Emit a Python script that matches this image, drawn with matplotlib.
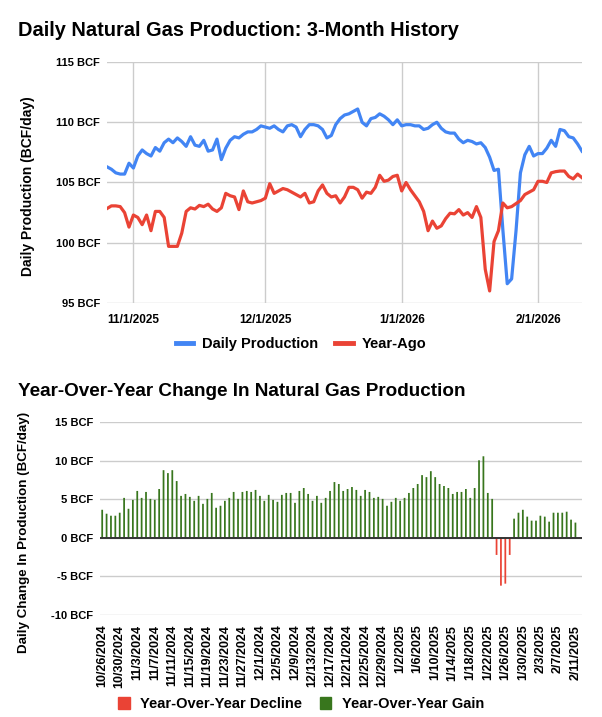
import numpy as np
import pandas as pd
import matplotlib
matplotlib.use("Agg")
import matplotlib.pyplot as plt
from matplotlib.lines import Line2D
from matplotlib.patches import Patch

plt.rcParams['font.family'] = ['Liberation Sans', 'DejaVu Sans']
plt.rcParams['font.weight'] = 'bold'

# top chart: daily production vs same day one year earlier (BCF/day), 10/26/2025 onward
production = [106.3, 106.1, 105.8, 105.7, 105.7, 106.6, 106.2, 107.2, 107.7, 107.4,
              107.2, 107.9, 107.6, 108.3, 108.6, 108.3, 108.7, 108.4, 108.0, 108.8,
              108.1, 108.0, 108.5, 107.6, 107.7, 108.6, 106.9, 107.85, 108.5, 108.8,
              108.7, 109.0, 109.2, 109.2, 109.4, 109.7, 109.6, 109.5, 109.7, 109.4,
              109.2, 109.7, 109.8, 109.6, 108.8, 109.4, 109.8, 109.8, 109.7, 109.4,
              108.7, 108.9, 109.8, 110.3, 110.6, 110.7, 110.9, 111.1, 110.0, 109.7,
              110.3, 110.4, 110.7, 110.5, 110.2, 109.8, 110.2, 109.7, 109.8, 109.8,
              109.7, 109.7, 109.4, 109.5, 109.8, 110.0, 109.5, 109.2, 109.1, 109.1,
              108.6, 108.3, 108.5, 108.4, 108.2, 108.3, 107.9, 107.1, 106.0, 106.1,
              101.1, 96.6, 97.0, 101.0, 105.8, 107.3, 108.0, 107.2, 107.4, 107.4,
              107.85, 108.5, 108.0, 109.4, 109.3, 108.8, 108.7, 108.2, 107.6]

year_ago = [102.84, 103.06, 103.06, 103.0, 102.5, 101.3, 102.3, 102.1, 101.5, 102.3,
            101.0, 102.6, 102.6, 102.1, 99.7, 99.7, 99.7, 100.8, 102.6, 102.9,
            102.8, 103.1, 103.0, 103.2, 102.8, 102.6, 102.9, 104.1, 103.9, 103.8,
            102.75, 104.3, 103.4, 103.3, 103.4, 103.5, 103.7, 104.9, 104.1, 104.3,
            104.5, 104.4, 104.2, 104.0, 103.8, 104.1, 103.3, 103.4, 104.3, 104.8,
            104.1, 103.8, 103.9, 103.3, 103.8, 104.6, 104.6, 104.4, 103.7, 104.2,
            104.1, 104.6, 105.6, 105.1, 105.2, 105.5, 105.6, 104.3, 105.0, 104.4,
            103.9, 103.4, 102.6, 101.0, 101.8, 101.2, 101.4, 102.0, 102.45, 102.4,
            102.75, 102.3, 102.5, 102.1, 103.0, 102.1, 97.8, 96.0, 100.1, 101.0,
            103.3, 102.9, 103.0, 103.25, 103.5, 104.0, 104.2, 104.4, 105.1, 105.1,
            105.0, 105.8, 105.9, 105.95, 105.95, 105.5, 105.3, 105.7, 105.4]

# bottom chart: year-over-year change, categories labelled with the 2024 dates
yoy_change = [3.63, 3.12, 2.86, 2.86, 3.25, 5.17, 3.76, 4.91, 6.07, 5.17,
              5.94, 5.04, 4.91, 6.32, 8.76, 8.38, 8.76, 7.35, 5.43, 5.68,
              5.30, 4.79, 5.43, 4.40, 5.04, 5.81, 3.89, 4.15, 4.79, 5.17,
              5.94, 5.04, 5.94, 6.07, 5.94, 6.20, 5.43, 4.79, 5.56, 4.91,
              4.66, 5.56, 5.81, 5.81, 4.53, 6.07, 6.45, 5.68, 4.79, 5.43,
              4.53, 5.17, 6.07, 7.22, 6.97, 6.07, 6.32, 6.58, 6.20, 5.43,
              6.20, 5.94, 5.17, 5.30, 5.04, 4.15, 4.66, 5.17, 4.79, 5.17,
              5.81, 6.45, 6.97, 8.12, 7.86, 8.63, 7.86, 6.97, 6.71, 6.45,
              5.68, 5.94, 5.94, 6.32, 5.17, 6.45, 10.04, 10.56, 5.81, 5.04,
              -2.22, -6.20, -5.94, -2.22, 2.48, 3.25, 3.63, 2.74, 2.22, 2.22,
              2.86, 2.74, 2.09, 3.25, 3.25, 3.25, 3.38, 2.35, 1.97]

dates = pd.date_range('2025-10-26', periods=len(production))
yoy_dates = pd.date_range('2024-10-26', periods=len(yoy_change))

BLUE = '#4285f4'
RED = '#ea4335'
GREEN = '#38761d'
GRID = '#cccccc'

W, H = 602, 717
fig = plt.figure(figsize=(W / 100, H / 100), dpi=100)


def fmt_date(d):
    return f"{d.month}/{d.day}/{d.year}"


# ---- top chart ----
ax1 = fig.add_axes([107 / W, 1 - 303 / H, 475 / W, 241 / H])
ax1.plot(dates, production, color=BLUE, lw=2.3, solid_joinstyle='round')
ax1.plot(dates, year_ago, color=RED, lw=2.3, solid_joinstyle='round')
ax1.set_ylim(95, 115)
ax1.set_xlim(dates[0], dates[-1])
yt = [95, 100, 105, 110, 115]
ax1.set_yticks(yt)
ax1.set_yticklabels([f"{v} BCF" for v in yt], fontsize=8)
month_starts = dates[dates.day == 1]
ax1.set_xticks(month_starts)
ax1.set_xticklabels([fmt_date(d) for d in month_starts], fontsize=8.5)
ax1.grid(True, color=GRID, lw=1)
ax1.set_axisbelow(True)
ax1.tick_params(length=0)
ax1.tick_params(axis='y', pad=5)
ax1.tick_params(axis='x', pad=8)
for s in ax1.spines.values():
    s.set_visible(False)

fig.text(18 / W, 1 - 31 / H, "Daily Natural Gas Production: 3-Month History",
         fontsize=14.4, fontweight='bold', va='center', ha='left')
fig.text(28 / W, 1 - 186 / H, "Daily Production (BCF/day)", rotation=90,
         fontsize=10, va='center', ha='center')

fig.legend(handles=[Line2D([], [], color=BLUE, lw=3.5),
                    Line2D([], [], color=RED, lw=3.5)],
           labels=["Daily Production", "Year-Ago"],
           loc='center', bbox_to_anchor=(0.5, 1 - 344 / H), ncol=2,
           frameon=False, fontsize=10.5, handlelength=1.2, columnspacing=1.2,
           handletextpad=0.6)

# ---- bottom chart ----
ax2 = fig.add_axes([100 / W, 1 - 615 / H, 482 / W, 193 / H])
x = np.arange(len(yoy_change))
colors = [GREEN if v >= 0 else RED for v in yoy_change]
ax2.bar(x, yoy_change, width=0.4, color=colors, lw=0, zorder=2, snap=False)
ax2.axhline(0, color='#333333', lw=1.4, zorder=3)
ax2.set_ylim(-10, 15)
ax2.set_xlim(-0.5, 109.5)
yt2 = [-10, -5, 0, 5, 10, 15]
ax2.set_yticks(yt2)
ax2.set_yticklabels([f"{v} BCF" for v in yt2], fontsize=8)
ax2.set_xticks(x[::4])
ax2.set_xticklabels([fmt_date(d) for d in yoy_dates[::4]], rotation=90, fontsize=9)
ax2.grid(True, axis='y', color=GRID, lw=1)
ax2.set_axisbelow(True)
ax2.tick_params(length=0)
ax2.tick_params(axis='y', pad=5)
ax2.tick_params(axis='x', pad=7)
for s in ax2.spines.values():
    s.set_visible(False)

fig.text(18 / W, 1 - 392 / H, "Year-Over-Year Change In Natural Gas Production",
         fontsize=13.6, fontweight='bold', va='center', ha='left')
fig.text(24 / W, 1 - 532 / H, "Daily Change In Production (BCF/day)", rotation=90,
         fontsize=9.6, va='center', ha='center')

fig.legend(handles=[Patch(color=RED), Patch(color=GREEN)],
           labels=["Year-Over-Year Decline", "Year-Over-Year Gain"],
           loc='center', bbox_to_anchor=(0.5, 1 - 704 / H), ncol=2,
           frameon=False, fontsize=10.5, handlelength=0.8, handleheight=0.8,
           columnspacing=1.2, handletextpad=0.7)

fig.savefig("out.png", dpi=100)
